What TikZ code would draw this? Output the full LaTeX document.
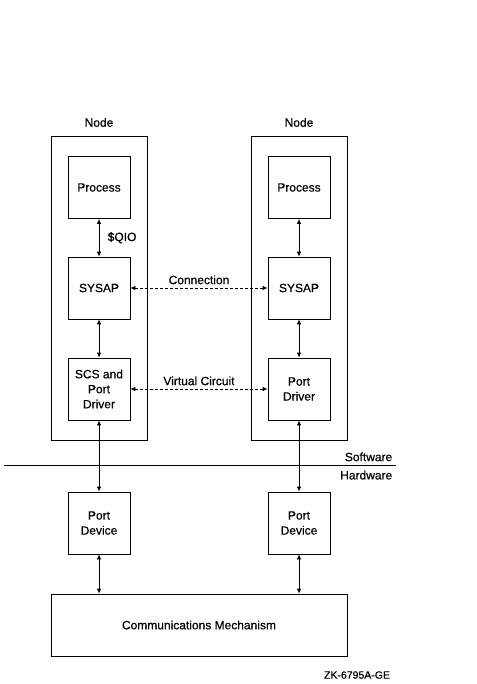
\documentclass[tikz,border=0pt]{standalone}
\usepackage{fontspec}
\setmainfont{Liberation Sans}[FakeBold=0.6]
\usetikzlibrary{arrows.meta}

\begin{document}
\begin{tikzpicture}[x=1pt, y=-1pt, line width=0.8pt, font=\fontsize{12}{15}\selectfont,
  box/.style={shape=rectangle, draw=black, minimum width=62pt, minimum height=62pt, inner sep=0pt, align=center},
  frame/.style={shape=rectangle, draw=black, minimum width=96pt, minimum height=304pt, inner sep=0pt},
  link/.style={{Latex[length=5pt,width=4.5pt]}-{Latex[length=5pt,width=4.5pt]}},
  peer/.style={link, dash pattern=on 3pt off 2pt}]
\useasboundingbox (0,0) rectangle (476,684);
\node[frame, label={[label distance=5pt]above:Node}] (N1) at (99,288) {};
\node[frame, label={[label distance=5pt]above:Node}] (N2) at (299,288) {};
\node[box] (P1) at (99,187.5) {Process};
\node[box] (P2) at (299,187.5) {Process};
\node[box] (S1) at (99,288) {SYSAP};
\node[box] (S2) at (299,288) {SYSAP};
\node[box] (D1) at (99,389) {SCS and\\Port\\Driver};
\node[box] (D2) at (299,389) {Port\\Driver};
\node[box] (H1) at (99,523) {Port\\Device};
\node[box] (H2) at (299,523) {Port\\Device};
\node[shape=rectangle, draw=black, minimum width=296pt, minimum height=62pt] (C) at (199,625) {Communications Mechanism};
\coordinate (swL) at (4,465);
\coordinate (swR) at (396,465);
\draw (swL) -- (swR) node[above left] {Software} node[below left, yshift=-2pt] {Hardware};
\path [link] (P1) edge node[right=5pt] {\$QIO} (S1);
\path [link] (P2) edge (S2);
\path [link] (S1) edge (D1);
\path [link] (S2) edge (D2);
\path [link] (D1) edge (H1);
\path [link] (D2) edge (H2);
\path [link] (H1.south) edge (H1.south |- C.north);
\path [link] (H2.south) edge (H2.south |- C.north);
\path [peer] (S1) edge node[above] {Connection} (S2);
\path [peer] (D1) edge node[above] {Virtual Circuit} (D2);
\node (fig) at (357,675) {\fontsize{10.5}{12}\selectfont ZK-6795A-GE};
\end{tikzpicture}
\end{document}
